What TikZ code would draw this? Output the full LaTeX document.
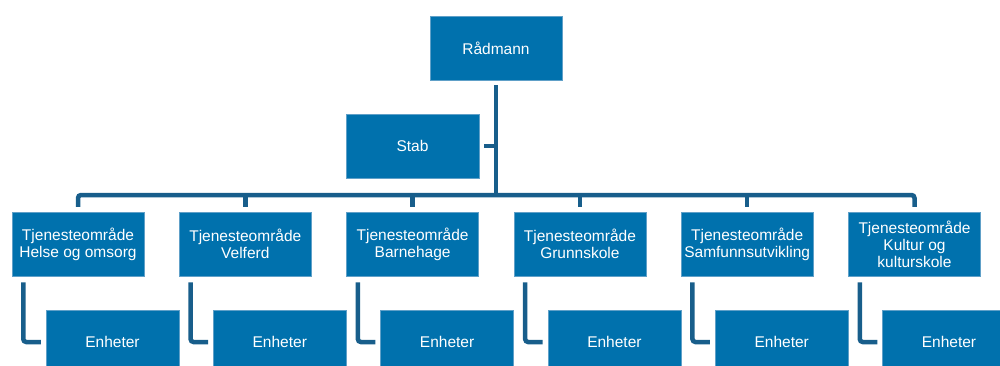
\documentclass[tikz,border=0pt]{standalone}
\usepackage{fontspec}
\setmainfont{Liberation Sans}
\usetikzlibrary{calc}
\definecolor{boxblue}{RGB}{0,113,173}
\definecolor{boxedge}{RGB}{96,160,200}
\definecolor{lineblue}{RGB}{24,94,139}
\tikzset{
	orgbox/.style={fill=boxblue, draw=boxedge, line width=0.5pt, text=white, minimum width=132pt, minimum height=64pt, inner sep=1pt, align=center, font=\fontsize{15.5}{17}\selectfont},
	unitbox/.style={orgbox, minimum width=133pt},
	link/.style={draw=lineblue, line width=4.5pt}
}
\begin{document}
\begin{tikzpicture}[x=1pt,y=-1pt]
			%%%%% START %%%%%
			\useasboundingbox (0,0) rectangle (1000,365);
			
			\node[orgbox] (radmann) at (496,48) {Rådmann};
			\node[orgbox, minimum width=133pt] (stab) at (412.5,146) {Stab};
			\coordinate (bar) at (496,195);
			
			\foreach \i/\txt in {1/{Helse og omsorg}, 2/{Velferd}, 3/{Barnehage}, 4/{Grunnskole}, 5/{Samfunnsutvikling}, 6/{Kultur og\\kulturskole}} {
				\node[orgbox] (omr\i) at ({78+167.3*(\i-1)},244) {Tjenesteområde\\\txt};
				\node[unitbox] (enh\i) at ({112.5+167.3*(\i-1)},342) {Enheter};
				\draw[link, rounded corners=3pt] ([xshift=11.5pt, yshift=-6pt]omr\i.south west) |- ([xshift=-5pt]enh\i.west);
			}
			
			\draw[link] ([yshift=-5pt]radmann.south) -- (bar);
			\draw[link] ([xshift=5pt]stab.east) -- (stab.east -| bar);
			\draw[link, rounded corners=3pt] ([yshift=5pt]omr1.north) |- (bar) -| ([yshift=5pt]omr6.north);
			\foreach \i in {2,...,5}
				\draw[link] ([yshift=5pt]omr\i.north) -- (omr\i.north |- bar);
			%%%%% END %%%%%
		\end{tikzpicture}
\end{document}
